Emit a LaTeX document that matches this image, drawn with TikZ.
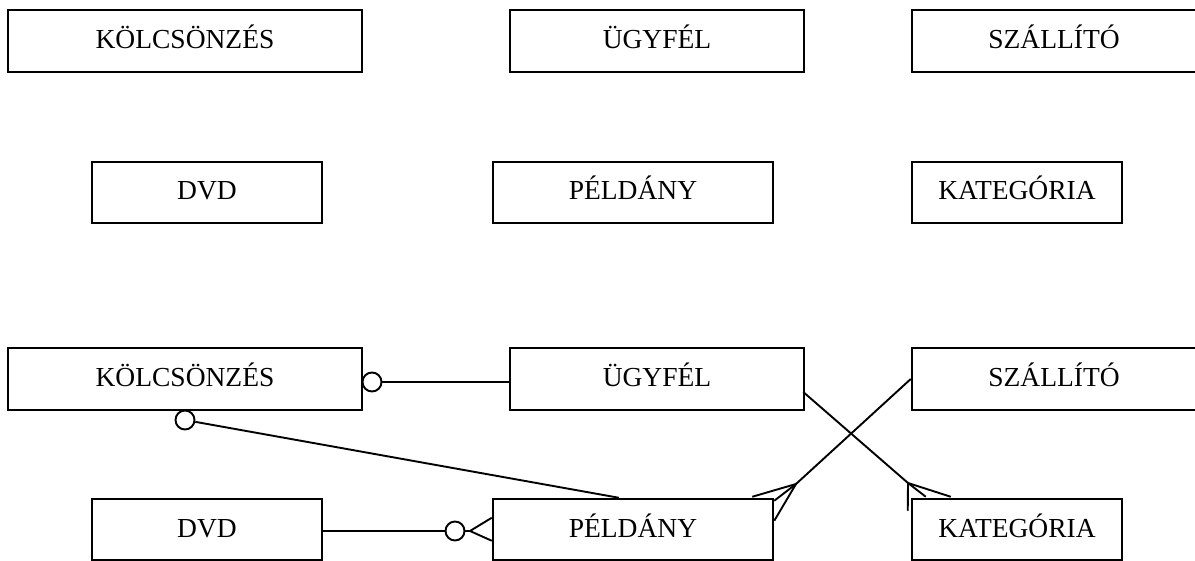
\documentclass[tikz,border=0pt]{standalone}
\usepackage{fontspec}
\setmainfont{Liberation Serif}
\usetikzlibrary{calc}
\begin{document}
\begin{tikzpicture}[x=1pt,y=-1pt,
  ent/.style={draw, line width=2.5pt, inner sep=0pt, text height=15pt, text depth=0pt,
    font=\fontsize{27.5}{33}\selectfont},
  conn/.style={line width=1.9pt, line join=miter},
  ring/.style={draw, circle, line width=1.9pt, fill=white, minimum size=19pt, inner sep=0pt}]
\useasboundingbox (0,0) rectangle (1195,561);
% top (unconnected) set
\node[ent, minimum width=354pt, minimum height=62pt] (k1) at (185,41) {KÖLCSÖNZÉS};
\node[ent, minimum width=294pt, minimum height=62pt] (u1) at (657,41) {ÜGYFÉL};
\node[ent, minimum width=284pt, minimum height=62pt] (s1) at (1054,41) {SZÁLLÍTÓ};
\node[ent, minimum width=230pt, minimum height=61pt] (d1) at (207,192.5) {DVD};
\node[ent, minimum width=280pt, minimum height=61pt] (p1) at (633,192.5) {PÉLDÁNY};
\node[ent, minimum width=210pt, minimum height=61pt] (t1) at (1017,192.5) {KATEGÓRIA};
% bottom (connected) set
\node[ent, minimum width=354pt, minimum height=62pt] (k2) at (185,379) {KÖLCSÖNZÉS};
\node[ent, minimum width=294pt, minimum height=62pt] (u2) at (657,379) {ÜGYFÉL};
\node[ent, minimum width=284pt, minimum height=62pt] (s2) at (1054,379) {SZÁLLÍTÓ};
\node[ent, minimum width=230pt, minimum height=61pt] (d2) at (207,529.5) {DVD};
\node[ent, minimum width=280pt, minimum height=61pt] (p2) at (633,529.5) {PÉLDÁNY};
\node[ent, minimum width=210pt, minimum height=61pt] (t2) at (1017,529.5) {KATEGÓRIA};
% KÖLCSÖNZÉS -- ÜGYFÉL
\node[ring] (c1) at (372,382) {};
\draw[conn] (c1.east) -- (u2.west |- c1.east);
% KÖLCSÖNZÉS -- PÉLDÁNY
\node[ring] (c2) at (185,420) {};
\coordinate (p2top) at ($(p2.north west)+(127,0)$);
\draw[conn] (c2) -- (p2top);
% DVD -- PÉLDÁNY
\node[ring] (c3) at (455,531) {};
\draw[conn] (d2.east |- c3.west) -- (c3.west);
\coordinate (c3apex) at (470,531);
\draw[conn] (c3.east) -- (c3apex);
\draw[conn] ($(p2.north west)+(0,20)$) -- (c3apex) -- ($(p2.north west)+(0,43)$);
% SZÁLLÍTÓ -- PÉLDÁNY
\coordinate (spx) at (796,484);
\draw[conn] (s2.west) -- (spx);
\draw[conn] ($(p2.north east)+(-22,-1)$) -- (spx) -- ($(p2.north east)+(0,23)$);
\draw[conn] (spx) -- ($(p2.north east)+(0,3)$);
% ÜGYFÉL -- KATEGÓRIA
\coordinate (ustart) at ($(u2.east)+(-2,13)$);
\coordinate (kpx) at (908,483);
\draw[conn] (ustart) -- (kpx);
\draw[conn] ($(t2.north west)+(40,-1)$) -- (kpx) -- ($(t2.north west)+(-3,13)$);
\draw[conn] (kpx) -- ($(t2.north west)+(15,-1)$);
\end{tikzpicture}
\end{document}
